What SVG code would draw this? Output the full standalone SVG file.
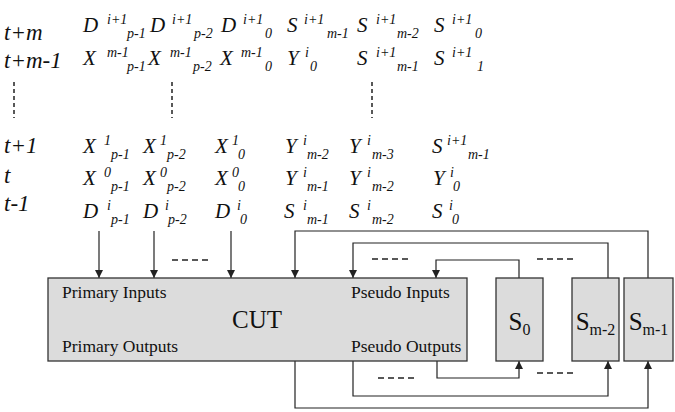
<svg xmlns="http://www.w3.org/2000/svg" width="675" height="412" viewBox="0 0 675 412">
<style>
.lbl{font-family:"Liberation Serif","Times New Roman",serif;font-style:italic;font-size:23px;fill:#111}
.m{font-family:"Liberation Serif","Times New Roman",serif;font-style:italic;font-size:21px;fill:#111}
.s{font-size:14px}
.box{fill:#dcdcdc;stroke:#333;stroke-width:1.3}
.t{font-family:"Liberation Serif","Times New Roman",serif;font-size:17.5px;fill:#111}
.big{font-family:"Liberation Serif","Times New Roman",serif;font-size:25px;fill:#111}
.ln{fill:none;stroke:#222;stroke-width:1.2}
.vd{fill:none;stroke:#222;stroke-width:1.5;stroke-dasharray:4,3}
.hd{fill:none;stroke:#222;stroke-width:1.5;stroke-dasharray:6,4}
</style>
<defs>
<marker id="ah" viewBox="0 0 8 10" refX="8" refY="5" markerWidth="8" markerHeight="10" markerUnits="userSpaceOnUse" orient="auto">
<path d="M0,1 L8,5 L0,9 z" fill="#222"/>
</marker>
</defs>

<g id="time-labels">
<text class="lbl" x="4" y="40">t+m</text>
<text class="lbl" x="4" y="68">t+m-1</text>
<text class="lbl" x="4" y="153">t+1</text>
<text class="lbl" x="4" y="183">t</text>
<text class="lbl" x="4" y="211">t-1</text>
</g>

<g id="sequence">
<text class="m"><tspan x="83" y="32">D</tspan><tspan class="s" x="107" y="24">i+1</tspan><tspan class="s" x="127" y="38">p-1</tspan></text>
<text class="m"><tspan x="150" y="32">D</tspan><tspan class="s" x="172" y="24">i+1</tspan><tspan class="s" x="194" y="38">p-2</tspan></text>
<text class="m"><tspan x="221" y="32">D</tspan><tspan class="s" x="243" y="24">i+1</tspan><tspan class="s" x="265" y="38">0</tspan></text>
<text class="m"><tspan x="287" y="32">S</tspan><tspan class="s" x="304" y="24">i+1</tspan><tspan class="s" x="327" y="38">m-1</tspan></text>
<text class="m"><tspan x="357" y="32">S</tspan><tspan class="s" x="376" y="24">i+1</tspan><tspan class="s" x="397" y="38">m-2</tspan></text>
<text class="m"><tspan x="434" y="32">S</tspan><tspan class="s" x="452" y="24">i+1</tspan><tspan class="s" x="475" y="38">0</tspan></text>
<text class="m"><tspan x="83" y="65">X</tspan><tspan class="s" x="107" y="57">m-1</tspan><tspan class="s" x="127" y="71">p-1</tspan></text>
<text class="m"><tspan x="148" y="65">X</tspan><tspan class="s" x="170" y="57">m-1</tspan><tspan class="s" x="193" y="71">p-2</tspan></text>
<text class="m"><tspan x="220" y="65">X</tspan><tspan class="s" x="241" y="57">m-1</tspan><tspan class="s" x="265" y="71">0</tspan></text>
<text class="m"><tspan x="287" y="65">Y</tspan><tspan class="s" x="305" y="57">i</tspan><tspan class="s" x="310" y="71">0</tspan></text>
<text class="m"><tspan x="357" y="65">S</tspan><tspan class="s" x="376" y="57">i+1</tspan><tspan class="s" x="397" y="71">m-1</tspan></text>
<text class="m"><tspan x="434" y="65">S</tspan><tspan class="s" x="452" y="57">i+1</tspan><tspan class="s" x="477" y="71">1</tspan></text>
<text class="m"><tspan x="83" y="153">X</tspan><tspan class="s" x="104" y="145">1</tspan><tspan class="s" x="111" y="159">p-1</tspan></text>
<text class="m"><tspan x="143" y="153">X</tspan><tspan class="s" x="160" y="145">1</tspan><tspan class="s" x="167" y="159">p-2</tspan></text>
<text class="m"><tspan x="215" y="153">X</tspan><tspan class="s" x="232" y="145">1</tspan><tspan class="s" x="238" y="159">0</tspan></text>
<text class="m"><tspan x="285" y="153">Y</tspan><tspan class="s" x="303" y="145">i</tspan><tspan class="s" x="307" y="159">m-2</tspan></text>
<text class="m"><tspan x="349" y="153">Y</tspan><tspan class="s" x="367" y="145">i</tspan><tspan class="s" x="372" y="159">m-3</tspan></text>
<text class="m"><tspan x="432" y="153">S</tspan><tspan class="s" x="447" y="145">i+1</tspan><tspan class="s" x="468" y="159">m-1</tspan></text>
<text class="m"><tspan x="83" y="185">X</tspan><tspan class="s" x="104" y="177">0</tspan><tspan class="s" x="111" y="191">p-1</tspan></text>
<text class="m"><tspan x="143" y="185">X</tspan><tspan class="s" x="160" y="177">0</tspan><tspan class="s" x="167" y="191">p-2</tspan></text>
<text class="m"><tspan x="215" y="185">X</tspan><tspan class="s" x="232" y="177">0</tspan><tspan class="s" x="238" y="191">0</tspan></text>
<text class="m"><tspan x="285" y="185">Y</tspan><tspan class="s" x="303" y="177">i</tspan><tspan class="s" x="307" y="191">m-1</tspan></text>
<text class="m"><tspan x="349" y="185">Y</tspan><tspan class="s" x="367" y="177">i</tspan><tspan class="s" x="372" y="191">m-2</tspan></text>
<text class="m"><tspan x="433" y="185">Y</tspan><tspan class="s" x="450" y="177">i</tspan><tspan class="s" x="453" y="191">0</tspan></text>
<text class="m"><tspan x="83" y="218">D</tspan><tspan class="s" x="107" y="210">i</tspan><tspan class="s" x="111" y="224">p-1</tspan></text>
<text class="m"><tspan x="143" y="218">D</tspan><tspan class="s" x="165" y="210">i</tspan><tspan class="s" x="168" y="224">p-2</tspan></text>
<text class="m"><tspan x="215" y="218">D</tspan><tspan class="s" x="237" y="210">i</tspan><tspan class="s" x="240" y="224">0</tspan></text>
<text class="m"><tspan x="284" y="218">S</tspan><tspan class="s" x="303" y="210">i</tspan><tspan class="s" x="307" y="224">m-1</tspan></text>
<text class="m"><tspan x="349" y="218">S</tspan><tspan class="s" x="367" y="210">i</tspan><tspan class="s" x="372" y="224">m-2</tspan></text>
<text class="m"><tspan x="432" y="218">S</tspan><tspan class="s" x="449" y="210">i</tspan><tspan class="s" x="452" y="224">0</tspan></text>
</g>

<g id="ellipses">
<path class="vd" d="M14,82 V118 M172,82 V118 M372,82 V118"/>
<path class="hd" d="M172,260 H208 M372,259 H408 M537,259 H573 M378,378 H414 M537,373 H573"/>
</g>

<g id="connectors">
<path class="ln" d="M99,231 V278" marker-end="url(#ah)"/>
<path class="ln" d="M154,231 V278" marker-end="url(#ah)"/>
<path class="ln" d="M231,231 V278" marker-end="url(#ah)"/>
<path class="ln" d="M648,278 V231 H295 V278" marker-end="url(#ah)"/>
<path class="ln" d="M608,278 V243 H353 V278" marker-end="url(#ah)"/>
<path class="ln" d="M519,278 V260 H436 V278" marker-end="url(#ah)"/>
<path class="ln" d="M437,361 V378 H519 V361" marker-end="url(#ah)"/>
<path class="ln" d="M353,361 V396 H608 V361" marker-end="url(#ah)"/>
<path class="ln" d="M295,361 V408 H648 V361" marker-end="url(#ah)"/>
</g>

<g id="cut">
<rect class="box" x="48" y="278" width="419" height="83"/>
<text class="t" x="62" y="298">Primary Inputs</text>
<text class="t" x="62" y="352">Primary Outputs</text>
<text class="t" x="351" y="298">Pseudo Inputs</text>
<text class="t" x="351" y="352">Pseudo Outputs</text>
<text class="big" x="257" y="328" text-anchor="middle">CUT</text>
</g>
<g id="s0">
<rect class="box" x="496" y="278" width="47" height="83"/>
<text class="big" x="519.5" y="330" text-anchor="middle">S<tspan font-size="16" dy="5">0</tspan></text>
</g>
<g id="sm2">
<rect class="box" x="572" y="278" width="47" height="83"/>
<text class="big" x="595.5" y="330" text-anchor="middle">S<tspan font-size="16" dy="5">m-2</tspan></text>
</g>
<g id="sm1">
<rect class="box" x="624" y="278" width="49" height="83"/>
<text class="big" x="648.5" y="330" text-anchor="middle">S<tspan font-size="16" dy="5">m-1</tspan></text>
</g>
</svg>
